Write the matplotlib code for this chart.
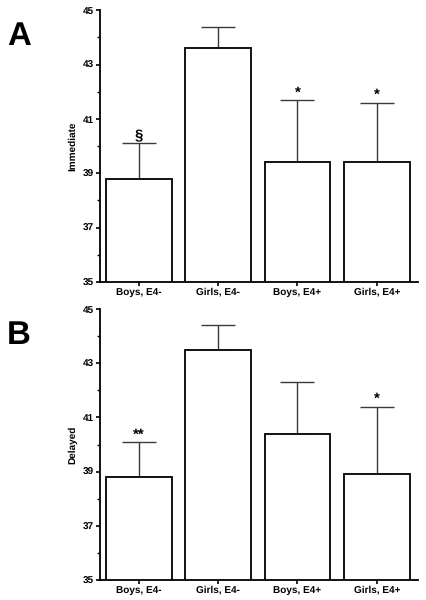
import numpy as np
import matplotlib.pyplot as plt
from matplotlib.ticker import FixedLocator

plt.rcParams['font.family'] = 'Liberation Sans'
plt.rcParams['font.weight'] = 'bold'
plt.rcParams['text.hinting'] = 'no_hinting'
plt.rcParams['text.hinting_factor'] = 1

# Gegevens per groep
groups = ["Boys, E4-", "Girls, E4-", "Boys, E4+", "Girls, E4+"]
immediate = [38.8, 43.6, 39.4, 39.4]
immediate_err = [1.3, 0.8, 2.3, 2.2]
immediate_marks = ["§", "", "*", "*"]
delayed = [38.8, 43.5, 40.4, 38.9]
delayed_err = [1.3, 0.9, 1.9, 2.5]
delayed_marks = ["**", "", "", "*"]

fig = plt.figure(figsize=(4.27, 6), dpi=100)
ax_a = fig.add_axes([0.234, 0.53, 0.745, 0.453])
ax_b = fig.add_axes([0.234, 0.033, 0.745, 0.452])

def draw_panel(ax, values, errs, marks, ylabel, letter):
    x = np.arange(len(groups))
    ax.bar(x, values, width=0.83, color="white", edgecolor="black", linewidth=1.3, zorder=2)
    ax.errorbar(x, values, yerr=[np.zeros(len(errs)), errs], fmt="none",
                ecolor="#3a3a3a", elinewidth=1.0, capsize=12, capthick=1.0, zorder=1)
    for xi, v, e, m in zip(x, values, errs, marks):
        if m:
            ax.annotate(m, (xi, v + e), xytext=(0, 2.5), textcoords="offset points",
                        ha="center", va="baseline", fontsize=11, fontweight="bold")
    ax.set_ylim(35, 45)
    ax.set_xlim(-0.49, 3.52)
    ax.yaxis.set_major_locator(FixedLocator(np.arange(35, 46, 2)))
    ax.yaxis.set_minor_locator(FixedLocator(np.arange(36, 45, 2)))
    # eigen labels op een vaste basislijn onder de as
    ax.set_xticks(x)
    ax.set_xticklabels([])
    for xi, g in zip(x, groups):
        ax.annotate(g, (xi, 0), xycoords=("data", "axes fraction"), xytext=(0, -9),
                    textcoords="offset points", ha="center", va="baseline",
                    fontsize=7, fontweight="bold")
    ax.tick_params(axis="y", labelsize=7, width=1.2, length=3, pad=1)
    ax.tick_params(axis="y", which="minor", width=1.0, length=2)
    ax.tick_params(axis="x", width=1.2, length=3, pad=2)
    ax.set_ylabel(ylabel, fontsize=7.5, fontweight="bold", labelpad=4)
    ax.spines["top"].set_visible(False)
    ax.spines["right"].set_visible(False)
    ax.spines["left"].set_linewidth(1.3)
    ax.spines["bottom"].set_linewidth(1.3)
    ax.text(-0.255, 0.96, letter, transform=ax.transAxes, fontsize=24,
            fontweight="bold", ha="center", va="top")

draw_panel(ax_a, immediate, immediate_err, immediate_marks, "Immediate", "A")
draw_panel(ax_b, delayed, delayed_err, delayed_marks, "Delayed", "B")

fig.savefig("out.png", dpi=100)
